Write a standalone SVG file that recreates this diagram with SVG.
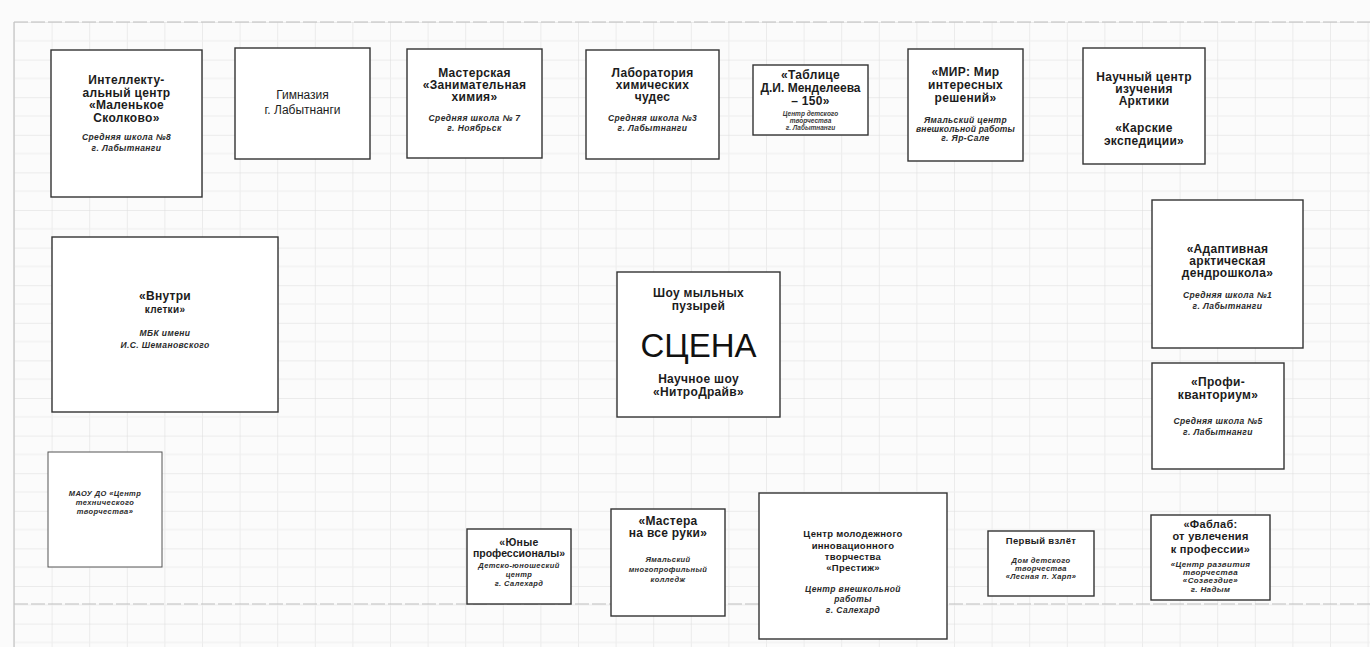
<svg xmlns="http://www.w3.org/2000/svg" width="1370" height="647" viewBox="0 0 1370 647">
<defs>
<pattern id="grid" x="14" y="22" width="37.6" height="37.6" patternUnits="userSpaceOnUse">
<path d="M0 0V37.6M0 0H37.6" fill="none" stroke="#dcdcdc" stroke-width="1"/>
<path d="M0 18.8H37.6" fill="none" stroke="#eeeeee" stroke-width="1"/>
</pattern>
</defs>
<style>
.box{fill:#fff;stroke:#333;stroke-width:1.4}
.t{font-family:"Liberation Sans",Arial,sans-serif;font-weight:bold;font-size:12px;fill:#1c1c1c;text-anchor:middle;letter-spacing:0.3px}
.r{font-family:"Liberation Sans",Arial,sans-serif;font-size:12px;fill:#1c1c1c;text-anchor:middle}
.s{font-family:"Liberation Sans",Arial,sans-serif;font-weight:bold;font-style:italic;font-size:8.5px;fill:#2a2a2a;text-anchor:middle;letter-spacing:0.4px}
.xs{font-family:"Liberation Sans",Arial,sans-serif;font-weight:bold;font-style:italic;font-size:6.5px;fill:#3a3a3a;text-anchor:middle}
.big{font-family:"Liberation Sans",Arial,sans-serif;font-size:33px;fill:#111;text-anchor:middle}
</style>
<rect width="1370" height="647" fill="#fbfbfb"/>
<rect x="14" y="22" width="1356" height="625" fill="url(#grid)"/>
<path d="M14 22H1370M14 604H1370" stroke="#bdbdbd" stroke-width="1.2" stroke-dasharray="14 3" fill="none"/>
<path d="M14 22V647" stroke="#c4c4c4" stroke-width="1.2" fill="none"/>
<g id="connectors"></g>

<g id="n1"><rect class="box" x="51" y="50" width="151" height="147"/>
<text class="t" x="126.5" y="84">Интеллекту-</text>
<text class="t" x="126.5" y="96.5">альный центр</text>
<text class="t" x="126.5" y="109">«Маленькое</text>
<text class="t" x="126.5" y="121.5">Сколково»</text>
<text class="s" x="126.5" y="140">Средняя школа №8</text>
<text class="s" x="126.5" y="151">г. Лабытнанги</text></g>

<g id="n2"><rect class="box" x="235" y="48" width="135" height="111"/>
<text class="r" x="302.5" y="99">Гимназия</text>
<text class="r" x="302.5" y="114">г. Лабытнанги</text></g>

<g id="n3"><rect class="box" x="407" y="49" width="135" height="109"/>
<text class="t" x="474.5" y="77">Мастерская</text>
<text class="t" x="474.5" y="89">«Занимательная</text>
<text class="t" x="474.5" y="101">химия»</text>
<text class="s" x="474.5" y="121">Средняя школа № 7</text>
<text class="s" x="474.5" y="131">г. Ноябрьск</text></g>

<g id="n4"><rect class="box" x="586" y="50" width="133" height="109"/>
<text class="t" x="652.5" y="77">Лаборатория</text>
<text class="t" x="652.5" y="89">химических</text>
<text class="t" x="652.5" y="101">чудес</text>
<text class="s" x="652.5" y="121">Средняя школа №3</text>
<text class="s" x="652.5" y="131">г. Лабытнанги</text></g>

<g id="n5"><rect class="box" x="753" y="65" width="115" height="70"/>
<text class="t" x="810.5" y="79">«Таблице</text>
<text class="t" x="810.5" y="92" style="letter-spacing:0">Д.И. Менделеева</text>
<text class="t" x="810.5" y="105">– 150»</text>
<text class="xs" x="810.5" y="116">Центр детского</text>
<text class="xs" x="810.5" y="123">творчества</text>
<text class="xs" x="810.5" y="130">г. Лабытнанги</text></g>

<g id="n6"><rect class="box" x="908" y="49" width="115" height="112"/>
<text class="t" x="965.5" y="76">«МИР: Мир</text>
<text class="t" x="965.5" y="89">интересных</text>
<text class="t" x="965.5" y="102">решений»</text>
<text class="s" x="965.5" y="123">Ямальский центр</text>
<text class="s" x="965.5" y="132" style="letter-spacing:0.2px">внешкольной работы</text>
<text class="s" x="965.5" y="141">г. Яр-Сале</text></g>

<g id="n7"><rect class="box" x="1083" y="48" width="122" height="116"/>
<text class="t" x="1144" y="81">Научный центр</text>
<text class="t" x="1144" y="93">изучения</text>
<text class="t" x="1144" y="105">Арктики</text>
<text class="t" x="1144" y="132">«Карские</text>
<text class="t" x="1144" y="145">экспедиции»</text></g>

<g id="n8"><rect class="box" x="52" y="237" width="226" height="175"/>
<text class="t" x="165" y="300">«Внутри</text>
<text class="t" x="165" y="313" style="font-size:10px">клетки»</text>
<text class="s" x="165" y="336">МБК имени</text>
<text class="s" x="165" y="348">И.С. Шемановского</text></g>

<g id="n9"><rect class="box" x="617" y="272" width="163" height="145"/>
<text class="t" x="698.5" y="297">Шоу мыльных</text>
<text class="t" x="698.5" y="310">пузырей</text>
<text class="big" x="698.5" y="357">СЦЕНА</text>
<text class="t" x="698.5" y="383">Научное шоу</text>
<text class="t" x="698.5" y="396">«НитроДрайв»</text></g>

<g id="n10"><rect class="box" x="1152" y="200" width="151" height="148"/>
<text class="t" x="1227.5" y="253">«Адаптивная</text>
<text class="t" x="1227.5" y="265">арктическая</text>
<text class="t" x="1227.5" y="277">дендрошкола»</text>
<text class="s" x="1227.5" y="298">Средняя школа №1</text>
<text class="s" x="1227.5" y="309">г. Лабытнанги</text></g>

<g id="n11"><rect class="box" x="1152" y="363" width="132" height="106"/>
<text class="t" x="1218" y="386">«Профи-</text>
<text class="t" x="1218" y="399">кванториум»</text>
<text class="s" x="1218" y="424">Средняя школа №5</text>
<text class="s" x="1218" y="435">г. Лабытнанги</text></g>

<g id="n12"><rect class="box" x="48" y="452" width="114" height="115" style="stroke:#555;stroke-width:1"/>
<text class="s" x="105" y="496" style="font-size:7.5px">МАОУ ДО «Центр</text>
<text class="s" x="105" y="505" style="font-size:7.5px">технического</text>
<text class="s" x="105" y="514" style="font-size:7.5px">творчества»</text></g>

<g id="n13"><rect class="box" x="467" y="529" width="104" height="75"/>
<text class="t" x="519" y="546" style="font-size:10.5px">«Юные</text>
<text class="t" x="519" y="557" style="font-size:10.5px;letter-spacing:0">профессионалы»</text>
<text class="s" x="519" y="568" style="font-size:7.5px">Детско-юношеский</text>
<text class="s" x="519" y="577" style="font-size:7.5px">центр</text>
<text class="s" x="519" y="586" style="font-size:7.5px">г. Салехард</text></g>

<g id="n14"><rect class="box" x="611" y="509" width="114" height="107"/>
<text class="t" x="668" y="525">«Мастера</text>
<text class="t" x="668" y="537">на все руки»</text>
<text class="s" x="668" y="562" style="font-size:7.5px">Ямальский</text>
<text class="s" x="668" y="572" style="font-size:7.5px">многопрофильный</text>
<text class="s" x="668" y="582" style="font-size:7.5px">колледж</text></g>

<g id="n15"><rect class="box" x="759" y="493" width="188" height="146"/>
<text class="t" x="853" y="537" style="font-size:9.5px">Центр молодежного</text>
<text class="t" x="853" y="549" style="font-size:9.5px">инновационного</text>
<text class="t" x="853" y="560" style="font-size:9.5px">творчества</text>
<text class="t" x="853" y="571" style="font-size:9.5px">«Престиж»</text>
<text class="s" x="853" y="592">Центр внешкольной</text>
<text class="s" x="853" y="602">работы</text>
<text class="s" x="853" y="613">г. Салехард</text></g>

<g id="n16"><rect class="box" x="988" y="531" width="106" height="65"/>
<text class="t" x="1041" y="544" style="font-size:9.5px">Первый взлёт</text>
<text class="s" x="1041" y="563" style="font-size:7.5px">Дом детского</text>
<text class="s" x="1041" y="571" style="font-size:7.5px">творчества</text>
<text class="s" x="1041" y="579" style="font-size:7.5px">«Лесная п. Харп»</text></g>

<g id="n17"><rect class="box" x="1151" y="515" width="119" height="85"/>
<text class="t" x="1210.5" y="528" style="font-size:11px">«Фаблаб:</text>
<text class="t" x="1210.5" y="540" style="font-size:11px">от увлечения</text>
<text class="t" x="1210.5" y="553" style="font-size:11px">к профессии»</text>
<text class="s" x="1210.5" y="567" style="font-size:8px">«Центр развития</text>
<text class="s" x="1210.5" y="575" style="font-size:8px">творчества</text>
<text class="s" x="1210.5" y="583" style="font-size:8px">«Созвездие»</text>
<text class="s" x="1210.5" y="592" style="font-size:8px">г. Надым</text></g>
</svg>
